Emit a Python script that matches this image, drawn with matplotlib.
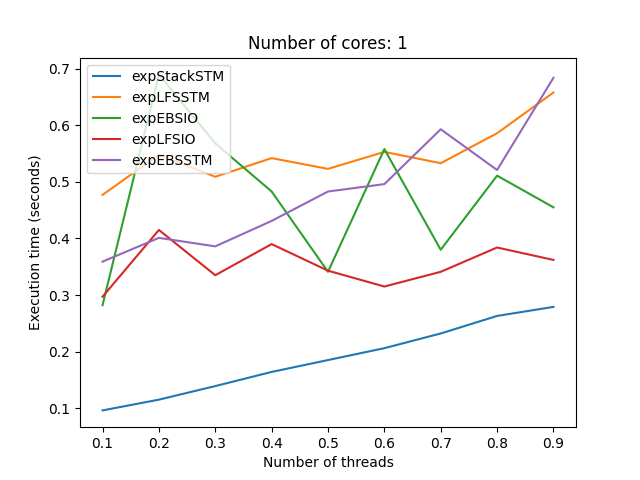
import matplotlib
matplotlib.use('Agg')
import matplotlib.pyplot as plt

threads = [0.1, 0.2, 0.3, 0.4, 0.5, 0.6, 0.7, 0.8, 0.9]
exp_stack_stm = [0.096, 0.115, 0.139, 0.164, 0.185, 0.206, 0.232, 0.263, 0.279]
exp_lfs_stm = [0.477, 0.548, 0.509, 0.542, 0.523, 0.553, 0.533, 0.586, 0.658]
exp_ebs_io = [0.282, 0.690, 0.568, 0.483, 0.341, 0.558, 0.380, 0.511, 0.455]
exp_lfs_io = [0.297, 0.415, 0.335, 0.390, 0.343, 0.315, 0.341, 0.384, 0.362]
exp_ebs_stm = [0.359, 0.401, 0.386, 0.431, 0.483, 0.496, 0.593, 0.521, 0.684]

fig, ax = plt.subplots(figsize=(6.4, 4.8), dpi=100)
ax.plot(threads, exp_stack_stm, label='expStackSTM')
ax.plot(threads, exp_lfs_stm, label='expLFSSTM')
ax.plot(threads, exp_ebs_io, label='expEBSIO')
ax.plot(threads, exp_lfs_io, label='expLFSIO')
ax.plot(threads, exp_ebs_stm, label='expEBSSTM')
ax.set_title('Number of cores: 1')
ax.set_xlabel('Number of threads')
ax.set_ylabel('Execution time (seconds)')
ax.legend(loc='upper left')
fig.savefig('out.png')
